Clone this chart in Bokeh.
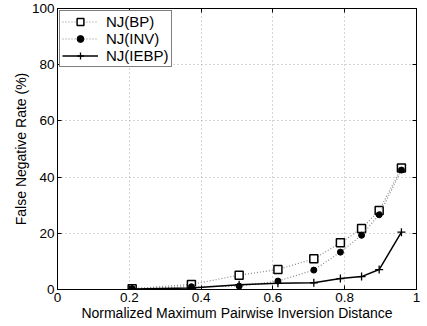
from bokeh.plotting import figure
from bokeh.models import LinearAxis, Range1d, FixedTicker
from bokeh.embed import file_html
from bokeh.resources import INLINE

x = [0.208, 0.373, 0.506, 0.614, 0.714, 0.788, 0.847, 0.896, 0.958]
bp = [0.3, 1.8, 5.1, 7.1, 10.9, 16.6, 21.7, 28.1, 43.2]
inv = [0.3, 1.0, 1.2, 3.0, 6.9, 13.3, 19.3, 26.6, 42.5]
iebp = [0.2, 0.5, 1.7, 2.2, 2.4, 3.9, 4.6, 7.1, 20.4]

xticks = [0, 0.2, 0.4, 0.6, 0.8, 1]
yticks = [0, 20, 40, 60, 80, 100]

FONT = "Liberation Sans"

p = figure(width=427, height=326, output_backend="svg", toolbar_location=None,
           x_range=Range1d(0, 1), y_range=Range1d(0, 100),
           min_border_left=57, min_border_right=11, min_border_top=9, min_border_bottom=36,
           x_axis_label="Normalized Maximum Pairwise Inversion Distance",
           y_axis_label="False Negative Rate (%)",
           styles={"margin-left": "0px", "margin-top": "-1px"})
p.outline_line_color = "black"
p.outline_line_width = 1

for ax in [p.xaxis[0], p.yaxis[0]]:
    ax.major_tick_in = 4
    ax.major_tick_out = 0
    ax.minor_tick_in = 0
    ax.minor_tick_out = 0
    ax.major_label_text_font = FONT
    ax.major_label_text_font_size = "13.5px"
    ax.major_label_text_color = "black"
    ax.axis_label_text_font = FONT
    ax.axis_label_text_font_size = "14px"
    ax.axis_label_text_font_style = "normal"
    ax.axis_label_text_color = "black"
    ax.axis_line_color = "black"
p.xaxis.ticker = FixedTicker(ticks=xticks)
p.yaxis.ticker = FixedTicker(ticks=yticks)
p.xaxis.major_label_standoff = 3
p.yaxis.major_label_standoff = 3
p.xaxis.axis_label_standoff = 0
p.yaxis.axis_label_standoff = 0

for loc, tk in [("right", yticks), ("above", xticks)]:
    ax = LinearAxis(ticker=FixedTicker(ticks=tk))
    ax.major_tick_in = 4
    ax.major_tick_out = 0
    ax.minor_tick_in = 0
    ax.minor_tick_out = 0
    ax.major_label_text_color = None
    ax.major_label_standoff = 0
    p.add_layout(ax, loc)

p.xgrid.grid_line_color = "#aaaaaa"
p.ygrid.grid_line_color = "#aaaaaa"
p.xgrid.grid_line_dash = "1 3"
p.ygrid.grid_line_dash = "1 3"

p.line(x, bp, line_color="#888888", line_dash="1 2", line_width=1.2, legend_label="NJ(BP)")
p.scatter(x, bp, marker="square", size=8, line_color="black", fill_color="white",
          line_width=1.5, legend_label="NJ(BP)")
p.line(x, inv, line_color="#888888", line_dash="1 2", line_width=1.2, legend_label="NJ(INV)")
p.scatter(x, inv, marker="circle", size=6, line_color="black", fill_color="black",
          legend_label="NJ(INV)")
p.line(x, iebp, line_color="black", line_width=1.5, legend_label="NJ(IEBP)")
p.scatter(x, iebp, marker="cross", size=8, line_color="black", line_width=1.3,
          legend_label="NJ(IEBP)")

lg = p.legend[0]
lg.location = "top_left"
lg.border_line_color = "black"
lg.border_line_width = 1
lg.background_fill_alpha = 1
lg.label_text_font = FONT
lg.label_text_font_size = "15px"
lg.label_text_color = "black"
lg.glyph_width = 36
lg.glyph_height = 17
lg.label_height = 17
lg.spacing = 0
lg.padding = 2
lg.margin = 2
lg.label_standoff = 8

open("out.html", "w").write(file_html(p, INLINE))
